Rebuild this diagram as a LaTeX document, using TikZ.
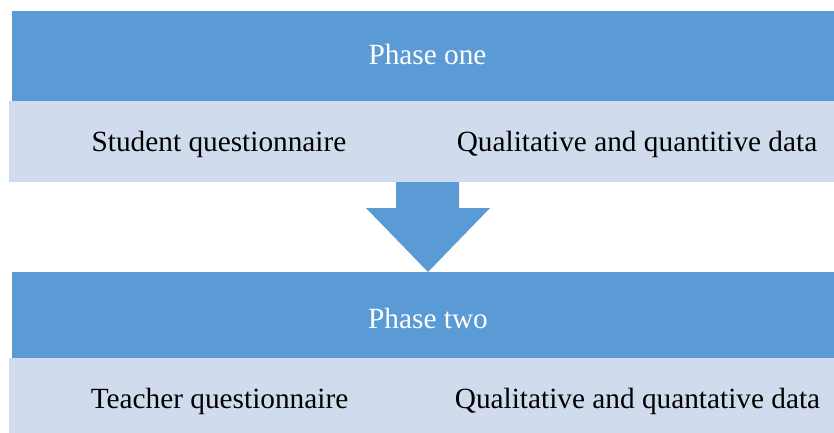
\documentclass[tikz,border=0pt]{standalone}
\usepackage{fontspec}
\setmainfont{Liberation Serif}
\definecolor{darkband}{HTML}{5B9BD5}
\definecolor{lightband}{HTML}{D0DCEE}
\begin{document}
\begin{tikzpicture}[x=1pt,y=-1pt,
  band/.style={fill=darkband,draw=none,inner sep=0pt,anchor=north west},
  lband/.style={fill=lightband,draw=none,inner sep=0pt,anchor=north west},
  txt/.style={font=\fontsize{29.3}{35}\selectfont,anchor=base,inner sep=0pt},
  wtxt/.style={txt,text=white}]
\useasboundingbox (0,0) rectangle (834,433);
\node[band,minimum width=822pt,minimum height=90pt] (p1) at (12,11) {};
\node[lband,minimum width=825pt,minimum height=81pt] (r1) at (9,101) {};
\node[band,minimum width=822pt,minimum height=86pt] (p2) at (12,272) {};
\node[lband,minimum width=825pt,minimum height=75pt] (r2) at (9,358) {};
\node[wtxt] (t1) at (427.5,64.3) {Phase one};
\node[txt] (s1) at (219,151.5) {Student questionnaire};
\node[txt] (q1) at (637,151.5) {Qualitative and quantitive data};
\node[wtxt] (t2) at (428,328) {Phase two};
\node[txt] (s2) at (219.5,408) {Teacher questionnaire};
\node[txt] (q2) at (637.5,408) {Qualitative and quantative data};
\fill[darkband] (396,182) -- (459,182) -- (459,208) -- (490,208) -- (428,272) -- (366,208) -- (396,208) -- cycle;
\end{tikzpicture}
\end{document}
